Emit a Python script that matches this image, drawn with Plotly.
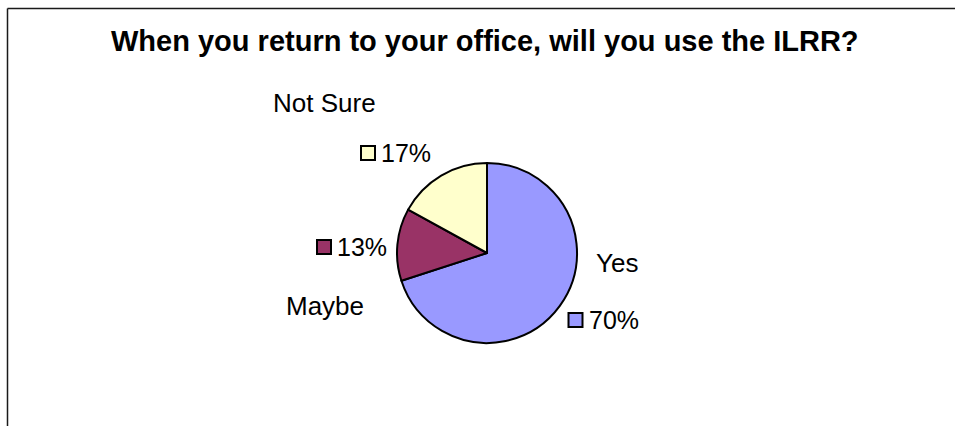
import plotly.graph_objects as go

# Survey responses
categories = ["Yes", "Maybe", "Not Sure"]
values = [70, 13, 17]
colors = ["#9999FF", "#993366", "#FFFFCC"]
title_text = "When you return to your office, will you use the ILRR?"

W, H = 955, 426

# Pie geometry (pixels)
pie_cx, pie_cy, pie_r = 487, 253, 90

# Label placement (pixel centres): name label, percent text, key box
name_pos = {"Yes": (617, 263), "Maybe": (325, 306), "Not Sure": (324, 103)}
pct_pos = {"Yes": (614, 320), "Maybe": (362, 247), "Not Sure": (406, 153)}
key_pos = {"Yes": (575.5, 320), "Maybe": (324, 247), "Not Sure": (368, 153)}
KEY = 14


def px(x):
    return x / W


def py(y):
    return 1 - y / H


fig = go.Figure(
    go.Pie(
        labels=categories,
        values=values,
        sort=False,
        direction="clockwise",
        rotation=0,
        marker=dict(colors=colors, line=dict(color="#000000", width=2)),
        textinfo="none",
        hoverinfo="label+percent",
        showlegend=False,
        domain=dict(
            x=[px(pie_cx - pie_r), px(pie_cx + pie_r)],
            y=[py(pie_cy + pie_r), py(pie_cy - pie_r)],
        ),
    )
)

font_family = "Arial, 'Liberation Sans', sans-serif"
annotations = [
    dict(
        text=f"<b>{title_text}</b>",
        x=px(485), y=py(41), xref="paper", yref="paper",
        xanchor="center", yanchor="middle", showarrow=False,
        font=dict(family=font_family, size=29, color="#000000"),
    )
]
shapes = [
    # chart frame (left and top edges)
    dict(type="line", xref="paper", yref="paper",
         x0=px(7.5), y0=py(8.5), x1=px(7.5), y1=py(H + 10),
         line=dict(color="#1a1a1a", width=1.5)),
    dict(type="line", xref="paper", yref="paper",
         x0=px(7.5), y0=py(8.5), x1=px(W + 10), y1=py(8.5),
         line=dict(color="#1a1a1a", width=1.5)),
]

for cat, val, col in zip(categories, values, colors):
    nx, ny = name_pos[cat]
    annotations.append(dict(
        text=cat, x=px(nx), y=py(ny), xref="paper", yref="paper",
        xanchor="center", yanchor="middle", showarrow=False,
        font=dict(family=font_family, size=26, color="#000000"),
    ))
    tx, ty = pct_pos[cat]
    annotations.append(dict(
        text=f"{val}%", x=px(tx), y=py(ty), xref="paper", yref="paper",
        xanchor="center", yanchor="middle", showarrow=False,
        font=dict(family=font_family, size=25, color="#000000"),
    ))
    kx, ky = key_pos[cat]
    shapes.append(dict(
        type="rect", xref="paper", yref="paper",
        x0=px(kx - KEY / 2), x1=px(kx + KEY / 2),
        y0=py(ky + KEY / 2), y1=py(ky - KEY / 2),
        fillcolor=col, line=dict(color="#000000", width=2),
    ))

fig.update_layout(
    width=W, height=H,
    margin=dict(l=0, r=0, t=0, b=0),
    paper_bgcolor="#FFFFFF",
    plot_bgcolor="#FFFFFF",
    annotations=annotations,
    shapes=shapes,
)

fig.write_html("out.html")
